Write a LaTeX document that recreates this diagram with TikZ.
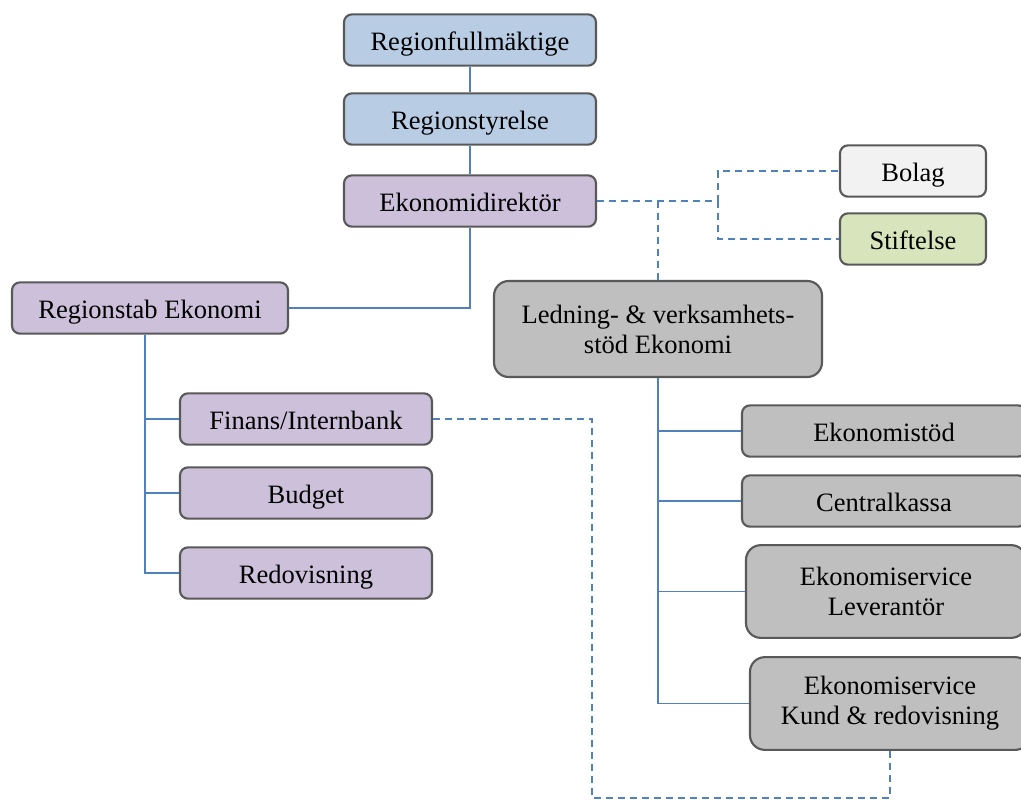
\documentclass[tikz,border=0pt]{standalone}
\usepackage{fontspec}
\setmainfont{Liberation Serif}
\definecolor{fblue}{HTML}{B8CCE4}
\definecolor{fpurple}{HTML}{CCC0DA}
\definecolor{fgray}{HTML}{BFBFBF}
\definecolor{fwhite}{HTML}{F2F2F2}
\definecolor{fgreen}{HTML}{D7E4BC}
\definecolor{bord}{HTML}{595959}
\definecolor{lineblue}{HTML}{4F81BD}
\begin{document}
\begin{tikzpicture}[x=0.75pt,y=-0.75pt,
  boxbase/.style={draw=bord,line width=1.6pt,rounded corners=6pt,inner sep=0pt,align=center,
    font=\fontsize{19.9}{22.5}\selectfont},
  box/.style={boxbase,text height=15.5pt,text depth=0pt},
  bigbox/.style={boxbase,rounded corners=11pt},
  conn/.style={draw=lineblue,line width=1.35pt},
  dconn/.style={conn,dash pattern=on 5.25pt off 3.75pt}]
\useasboundingbox (0,0) rectangle (1021,800);
\clip (0,0) rectangle (1021,800);
% top chain
\node[box,fill=fblue,minimum width=189pt,minimum height=38.5pt] (rf) at (470,40) {Regionfullmäktige};
\node[box,fill=fblue,minimum width=189pt,minimum height=38.5pt] (rs) at (470,119) {Regionstyrelse};
\node[box,fill=fpurple,minimum width=189pt,minimum height=38.5pt] (ed) at (470,201) {Ekonomidirektör};
% side
\node[box,fill=fwhite,minimum width=109.5pt,minimum height=38.5pt] (bol) at (913,171) {Bolag};
\node[box,fill=fgreen,minimum width=109.5pt,minimum height=38.5pt] (sti) at (913,239) {Stiftelse};
% left branch
\node[box,fill=fpurple,minimum width=207pt,minimum height=38.5pt] (rst) at (150,308) {Regionstab Ekonomi};
\node[box,fill=fpurple,minimum width=189pt,minimum height=38.5pt] (fin) at (306,419) {Finans/Internbank};
\node[box,fill=fpurple,minimum width=189pt,minimum height=38.5pt] (bud) at (306,493) {Budget};
\node[box,fill=fpurple,minimum width=189pt,minimum height=38.5pt] (red) at (306,573) {Redovisning};
% right branch
\node[bigbox,fill=fgray,minimum width=246pt,minimum height=72pt] (led) at (658,329) {Ledning- \& verksamhets-\\stöd Ekonomi};
\node[box,fill=fgray,minimum width=213pt,minimum height=38.5pt] (est) at (884,431) {Ekonomistöd};
\node[box,fill=fgray,minimum width=213pt,minimum height=38.5pt] (cen) at (884,501) {Centralkassa};
\node[bigbox,fill=fgray,minimum width=210pt,minimum height=69.5pt] (lev) at (886,591.5) {Ekonomiservice\\Leverantör};
\node[bigbox,fill=fgray,minimum width=210pt,minimum height=69.5pt] (kun) at (890,703.5) {Ekonomiservice\\Kund \& redovisning};
% solid connectors
\draw[conn] (rf) -- (rs);
\draw[conn] (rs) -- (ed);
\draw[conn] (ed.south) |- (rst.east);
\draw[conn] ([xshift=-3.75pt]rst.south) |- (fin.west);
\draw[conn] ([xshift=-3.75pt]rst.south) |- (bud.west);
\draw[conn] ([xshift=-3.75pt]rst.south) |- (red.west);
\draw[conn] (led.south) |- (est.west);
\draw[conn] (led.south) |- (cen.west);
\draw[conn] (led.south) |- (lev.west);
\draw[conn] (led.south) |- (kun.west);
% dashed connectors
\coordinate (j1) at (718,201);
\coordinate (j2) at (592,798);
\draw[dconn] (ed.east) -- (j1) |- (bol.west);
\draw[dconn] (j1) |- (sti.west);
\draw[dconn] (ed.east -| led.north) -- (led.north);
\draw[dconn] (fin.east) -| (j2) -| (kun.south);
\end{tikzpicture}
\end{document}
